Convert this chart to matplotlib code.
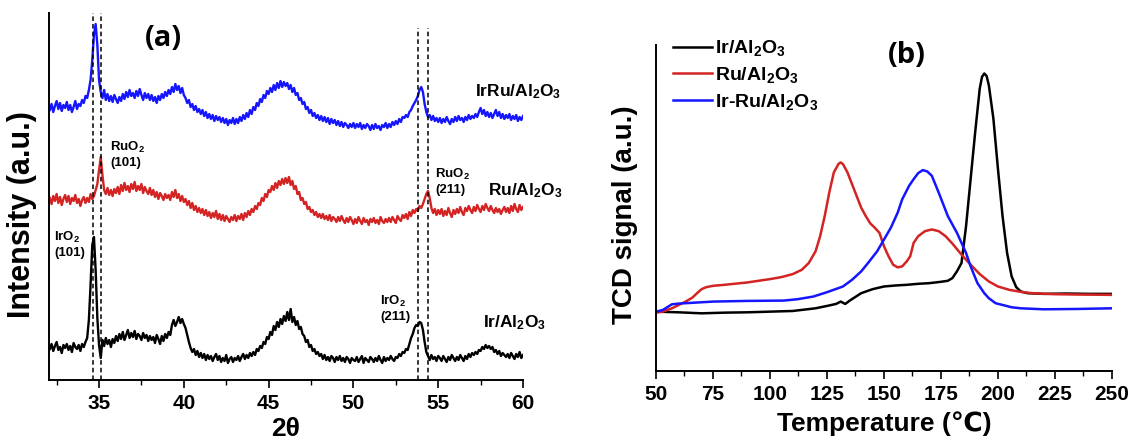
import numpy as np
import matplotlib
matplotlib.use("Agg")
import matplotlib.pyplot as plt

plt.rcParams['font.family'] = ['Liberation Sans', 'DejaVu Sans']
plt.rcParams['font.weight'] = 'bold'
plt.rcParams['mathtext.default'] = 'regular'

# ---- (a) XRD patterns, 2theta scan with 0.1 deg step ----
two_theta = np.round(np.arange(32.1, 60.05, 0.1), 1)

xrd_ir = [31, 36, 29, 34, 38, 30, 33, 27, 35, 32,
          36, 30, 34, 28, 37, 33, 31, 35, 29, 36,
          33, 38, 42, 60, 95, 135, 143, 110, 62, 35,
          22, 40, 34, 42, 36, 40, 33, 41, 37, 44,
          39, 46, 41, 48, 40, 45, 50, 42, 47, 43,
          49, 41, 46, 44, 40, 47, 42, 45, 39, 44,
          40, 43, 37, 45, 41, 36, 44, 39, 46, 42,
          48, 45, 55, 60, 54, 58, 63, 57, 61, 56,
          52, 45, 38, 32, 28, 31, 25, 29, 23, 27,
          22, 26, 20, 25, 21, 24, 19, 23, 26, 20,
          24, 18, 22, 19, 25, 17, 21, 23, 18, 22,
          20, 24, 19, 23, 26, 21, 25, 22, 27, 24,
          28, 25, 31, 29, 34, 32, 38, 36, 43, 41,
          48, 45, 54, 50, 58, 53, 61, 56, 64, 59,
          68, 60, 71, 58, 63, 55, 59, 51, 53, 46,
          44, 38, 40, 33, 35, 29, 31, 26, 28, 24,
          26, 21, 25, 20, 23, 19, 24, 22, 18, 23,
          20, 24, 19, 22, 18, 23, 21, 17, 22, 20,
          19, 23, 18, 21, 24, 17, 22, 20, 18, 23,
          21, 18, 22, 19, 24, 20, 17, 23, 19, 22,
          20, 24, 21, 19, 23, 22, 26, 24, 28, 27,
          31, 30, 36, 42, 46, 52, 55, 54, 58, 57,
          50, 38, 28, 24, 20, 25, 21, 23, 19, 24,
          22, 19, 24, 21, 18, 23, 20, 25, 22, 19,
          23, 20, 25, 22, 19, 24, 21, 26, 23, 27,
          25, 28, 26, 30, 29, 33, 31, 35, 32, 34,
          31, 33, 28, 30, 26, 29, 24, 27, 25, 23,
          26, 22, 27, 24, 21, 26, 23, 28, 22, 25]

xrd_ru = [182, 176, 184, 179, 186, 177, 183, 175, 181, 185,
          178, 184, 176, 182, 179, 185, 177, 181, 174, 180,
          183, 177, 182, 178, 186, 181, 184, 190, 196, 210,
          223, 205, 190, 186, 192, 185, 190, 184, 191, 187,
          193, 186, 195, 189, 197, 190, 194, 188, 196, 191,
          198, 189, 194, 190, 196, 187, 193, 189, 186, 192,
          185, 190, 183, 188, 181, 187, 184, 180, 186, 182,
          185, 180, 188, 183, 190, 182, 186, 179, 184, 178,
          181, 175, 179, 172, 177, 170, 174, 168, 172, 167,
          171, 165, 170, 164, 168, 162, 167, 163, 169, 161,
          166, 160, 165, 159, 164, 161, 158, 163, 160, 165,
          159, 164, 161, 166, 160, 167, 163, 169, 165, 171,
          168, 174, 171, 177, 175, 182, 179, 186, 183, 190,
          188, 194, 190, 197, 192, 199, 195, 201, 196, 202,
          197, 203, 195, 199, 191, 194, 186, 188, 180, 182,
          176, 178, 171, 173, 168, 170, 165, 168, 163, 166,
          162, 166, 161, 164, 160, 165, 159, 163, 161, 158,
          163, 159, 164, 160, 157, 162, 158, 163, 160, 156,
          161, 157, 163, 159, 156, 162, 158, 160, 155, 161,
          158, 162, 157, 160, 156, 163, 159, 157, 161, 158,
          162, 158, 163, 160, 157, 164, 161, 159, 165, 162,
          166, 161, 168, 164, 170, 167, 171, 169, 174, 172,
          176, 181, 186, 189, 182, 172, 167, 171, 165, 170,
          166, 171, 164, 169, 165, 172, 167, 163, 170, 166,
          171, 167, 173, 168, 165, 172, 169, 174, 170, 167,
          173, 169, 175, 171, 168, 174, 170, 176, 172, 169,
          174, 170, 167, 172, 168, 171, 166, 170, 173, 168,
          172, 167, 174, 169, 176, 171, 168, 175, 170, 173]

xrd_irru = [270, 276, 268, 274, 279, 271, 277, 269, 275, 272,
            278, 270, 275, 268, 273, 279, 271, 276, 274, 280,
            277, 284, 282, 290, 300, 320, 345, 356, 335, 300,
            288, 282, 290, 280, 286, 279, 284, 278, 285, 281,
            277, 283, 279, 286, 281, 288, 283, 290, 284, 287,
            282, 289, 284, 291, 285, 280, 287, 282, 286, 280,
            285, 279, 283, 277, 284, 280, 286, 282, 288, 284,
            290, 286, 293, 288, 296, 290, 294, 287, 292, 285,
            282, 277, 280, 273, 276, 270, 274, 268, 271, 266,
            270, 264, 268, 262, 266, 261, 265, 259, 264, 260,
            263, 258, 262, 257, 261, 255, 260, 257, 262, 256,
            261, 257, 263, 259, 265, 261, 267, 263, 270, 266,
            273, 270, 277, 274, 281, 278, 285, 282, 289, 286,
            292, 288, 295, 290, 297, 292, 299, 293, 298, 294,
            297, 291, 295, 288, 292, 285, 287, 280, 282, 276,
            278, 271, 273, 267, 270, 264, 267, 262, 265, 260,
            264, 259, 263, 258, 262, 256, 261, 257, 260, 255,
            259, 254, 258, 253, 257, 255, 252, 256, 253, 257,
            252, 256, 253, 257, 251, 255, 252, 256, 254, 250,
            255, 251, 256, 252, 254, 250, 255, 253, 257, 252,
            256, 253, 258, 255, 259, 256, 261, 258, 263, 262,
            265, 263, 268, 270, 274, 277, 280, 284, 290, 293,
            288, 276, 268, 263, 265, 260, 264, 259, 262, 258,
            262, 257, 261, 258, 263, 259, 256, 261, 258, 263,
            259, 264, 260, 262, 258, 263, 260, 265, 261, 264,
            262, 266, 263, 268, 272, 266, 270, 264, 268, 263,
            267, 262, 266, 270, 264, 268, 262, 266, 261, 265,
            262, 266, 260, 264, 261, 265, 259, 263, 260, 264]

ref_lines = [34.65, 35.12, 53.82, 54.38]
ref_tops = [1.0, 1.0, 0.96, 0.96]

# ---- (b) H2-TPR profiles ----
t_ir = [50, 60, 70, 80, 90, 100, 110, 120, 125, 129, 131, 133, 135, 140, 145, 150,
        155, 160, 165, 170, 175, 178, 180, 182, 184, 186, 188, 190, 192, 193, 194,
        195, 196, 198, 200, 202, 204, 206, 208, 210, 213, 220, 230, 240, 250]
tpr_ir = [1.77, 1.75, 1.72, 1.74, 1.75, 1.77, 1.79, 1.87, 1.94, 2.00, 2.07, 2.00,
          2.10, 2.32, 2.44, 2.52, 2.55, 2.57, 2.60, 2.62, 2.66, 2.69, 2.77, 2.97,
          3.22, 4.32, 5.72, 7.12, 8.42, 8.77, 8.87, 8.80, 8.52, 7.52, 6.02, 4.62,
          3.52, 2.82, 2.50, 2.37, 2.32, 2.30, 2.31, 2.30, 2.30]

t_ru = [50, 53, 57, 60, 63, 66, 68, 70, 72, 75, 80, 90, 100, 105, 110, 114, 117,
        120, 122, 124, 126, 128, 130, 131, 132, 134, 136, 138, 140, 142, 144, 146,
        148, 150, 152, 154, 156, 158, 160, 161.5, 163, 165, 168, 171, 174, 177,
        180, 184, 188, 192, 196, 200, 205, 210, 215, 225, 235, 250]
tpr_ru = [1.74, 1.77, 1.87, 1.97, 2.07, 2.19, 2.32, 2.44, 2.50, 2.54, 2.57, 2.64,
          2.74, 2.80, 2.89, 3.02, 3.22, 3.57, 4.02, 4.62, 5.32, 5.92, 6.17, 6.22,
          6.17, 5.92, 5.57, 5.22, 4.87, 4.62, 4.40, 4.27, 4.12, 3.72, 3.42, 3.17,
          3.09, 3.12, 3.27, 3.42, 3.82, 4.02, 4.17, 4.22, 4.17, 4.02, 3.80, 3.47,
          3.17, 2.89, 2.67, 2.52, 2.42, 2.36, 2.32, 2.29, 2.28, 2.27]

t_irru = [50, 53, 57, 60, 75, 90, 106, 112, 119, 125, 132, 136, 140, 143, 147,
          150, 153, 156, 158, 161, 163, 165, 167, 169, 171, 174, 178, 182, 186,
          188, 191, 194, 196, 199, 202, 206, 210, 220, 235, 250]
tpr_irru = [1.77, 1.82, 1.99, 2.01, 2.07, 2.09, 2.10, 2.14, 2.22, 2.35, 2.52,
            2.72, 2.97, 3.22, 3.57, 3.92, 4.27, 4.72, 5.12, 5.52, 5.72, 5.90,
            5.99, 5.95, 5.82, 5.32, 4.62, 4.12, 3.52, 3.12, 2.62, 2.32, 2.17,
            2.02, 1.97, 1.90, 1.87, 1.84, 1.85, 1.87]

blue = '#1515ff'
red = '#d42323'

fig = plt.figure(figsize=(11.32, 4.47), dpi=100)
ax1 = fig.add_axes([0.0433, 0.1499, 0.4187, 0.821])
ax2 = fig.add_axes([0.5795, 0.170, 0.4028, 0.7293])

# panel (a)
ax1.plot(two_theta, xrd_ir, color='black', lw=1.7)
ax1.plot(two_theta, xrd_ru, color=red, lw=1.7)
ax1.plot(two_theta, xrd_irru, color=blue, lw=1.7)
for xv, top in zip(ref_lines, ref_tops):
    ax1.axvline(xv, ymax=top, color='black', ls=(0, (3, 2)), lw=1.1)

ax1.set_xlim(32.05, 60)
ax1.set_ylim(0, 367)
ax1.set_xticks([35, 40, 45, 50, 55, 60])
ax1.set_xticks([32.5, 37.5, 42.5, 47.5, 52.5, 57.5], minor=True)
ax1.set_yticks([])
ax1.set_xlabel('2θ', fontsize=19, fontweight='bold', labelpad=3)
ax1.set_ylabel('Intensity (a.u.)', fontsize=22, fontweight='bold')
ax1.yaxis.set_label_coords(-0.025, 0.45)

ax1.text(38.77, 342, '(a)', fontsize=21, fontweight='bold', family=['Open Sans', 'DejaVu Sans'],
         ha='center', va='center')
ax1.text(57.17, 288, 'IrRu/Al$_2$O$_3$', fontsize=12.5, fontweight='bold', va='center')
ax1.text(57.94, 189, 'Ru/Al$_2$O$_3$', fontsize=12.5, fontweight='bold', va='center')
ax1.text(57.64, 57, 'Ir/Al$_2$O$_3$', fontsize=12.5, fontweight='bold', va='center')
ax1.text(35.65, 240, 'RuO$_2$\n(101)', fontsize=9.5, fontweight='bold', va='top')
ax1.text(32.35, 150, 'IrO$_2$\n(101)', fontsize=9.5, fontweight='bold', va='top')
ax1.text(51.57, 86, 'IrO$_2$\n(211)', fontsize=9.5, fontweight='bold', va='top')
ax1.text(54.81, 213, 'RuO$_2$\n(211)', fontsize=9.5, fontweight='bold', va='top')

# panel (b)
ax2.plot(t_ir, tpr_ir, color='black', lw=1.8, label='Ir/Al$_2$O$_3$')
ax2.plot(t_ru, tpr_ru, color=red, lw=1.8, label='Ru/Al$_2$O$_3$')
ax2.plot(t_irru, tpr_irru, color=blue, lw=1.8, label='Ir-Ru/Al$_2$O$_3$')
ax2.set_xlim(50, 250)
ax2.set_ylim(0, 9.72)
ax2.set_xticks([50, 75, 100, 125, 150, 175, 200, 225, 250])
ax2.set_xticks(np.arange(62.5, 250, 25), minor=True)
ax2.set_yticks([])
ax2.set_xlabel('Temperature (℃)', fontsize=19, fontweight='bold', labelpad=5)
ax2.set_ylabel('TCD signal (a.u.)', fontsize=20, fontweight='bold')
ax2.yaxis.set_label_coords(-0.04, 0.48)
ax2.text(160.2, 9.41, '(b)', fontsize=21, fontweight='bold', family=['Open Sans', 'DejaVu Sans'],
         ha='center', va='center')
ax2.legend(loc='upper left', bbox_to_anchor=(0.037, 1.02), frameon=False,
           prop={'size': 14, 'weight': 'bold'}, handlelength=2.0,
           handletextpad=0.15, labelspacing=0.35, borderpad=0, borderaxespad=0)

for ax in (ax1, ax2):
    ax.spines['top'].set_visible(False)
    ax.spines['right'].set_visible(False)
    ax.spines['left'].set_linewidth(1.4)
    ax.spines['bottom'].set_linewidth(1.4)
    ax.tick_params(axis='x', which='major', direction='out', length=6, width=1.2,
                   labelsize=15, pad=4)
    ax.tick_params(axis='x', which='minor', direction='out', length=3.5, width=1.0)
    for lab in ax.get_xticklabels():
        lab.set_fontweight('bold')

fig.savefig('out.png', dpi=100)
